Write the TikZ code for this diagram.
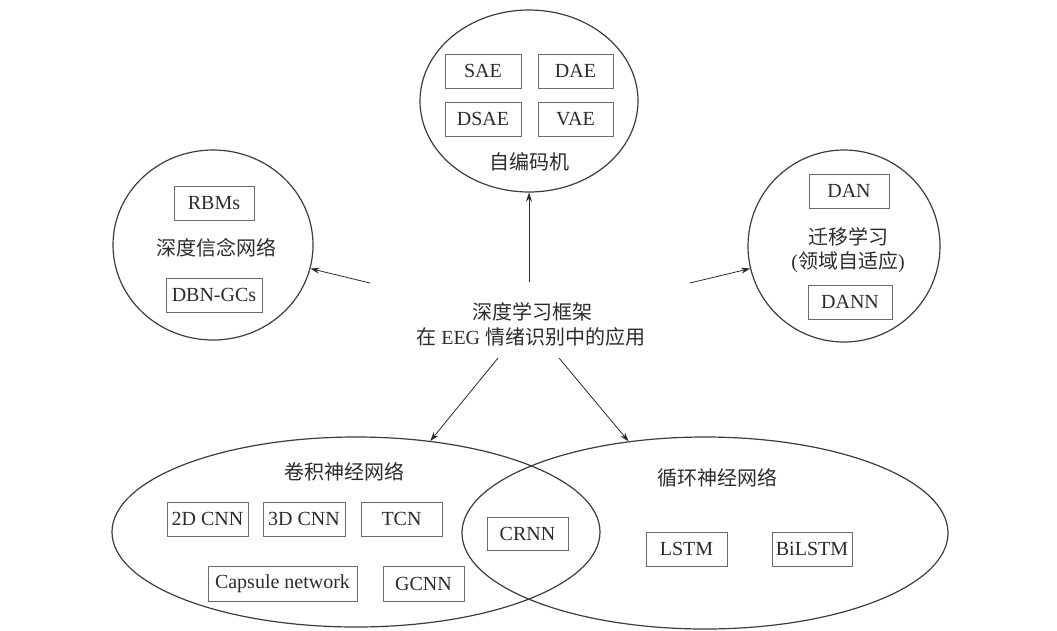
\documentclass[tikz,border=0pt]{standalone}
\usepackage{fontspec}
\setmainfont{Liberation Serif}
\newfontfamily\cjk{Noto Sans CJK SC}
\usetikzlibrary{shapes.geometric,arrows.meta}

\definecolor{inkdark}{HTML}{2E2A2B}
\definecolor{rimline}{HTML}{3C3C3C}
\definecolor{boxline}{HTML}{6A6A6A}

\tikzset{
  group/.style={ellipse, draw=rimline, line width=1.2pt, inner sep=0pt},
  algo/.style={draw=boxline, line width=0.9pt, minimum height=34pt, inner sep=0pt,
    text=inkdark, font=\fontsize{20}{23}\selectfont},
  grouplabel/.style={text=inkdark, font=\fontsize{20}{25}\selectfont\cjk, inner sep=0pt},
  link/.style={draw=inkdark, line width=0.8pt, -{Stealth[length=9pt,width=6pt]}}
}

\begin{document}
\begin{tikzpicture}[x=1pt, y=-1pt]
\path[use as bounding box] (0,0) rectangle (1057,630);

% group outlines
\node[group, minimum width=218pt, minimum height=182pt] (ae)  at (529,101) {};
\node[group, minimum width=200pt, minimum height=190pt] (dbn) at (213,245) {};
\node[group, minimum width=192pt, minimum height=192pt] (tl)  at (844,246) {};
\node[group, minimum width=488pt, minimum height=190pt] (cnn) at (356,532) {};
\node[group, minimum width=486pt, minimum height=192pt] (rnn) at (705,533) {};

% autoencoders
\node[algo, minimum width=76pt] (sae)  at (483,71)    {SAE};
\node[algo, minimum width=75pt] (dae)  at (575.5,71)  {DAE};
\node[algo, minimum width=76pt] (dsae) at (483,119)   {DSAE};
\node[algo, minimum width=75pt] (vae)  at (575.5,119) {VAE};
\node[grouplabel] (aelabel) at (529,162) {自编码机};

% deep belief network
\node[algo, minimum width=80pt] (rbm)  at (214,203) {RBMs};
\node[algo, minimum width=96pt] (dbngc) at (214,295) {DBN-GCs};
\node[grouplabel] (dbnlabel) at (216,248) {深度信念网络};

% transfer learning
\node[algo, minimum width=80pt] (dan)  at (849,191) {DAN};
\node[algo, minimum width=84pt] (dann) at (850,302) {DANN};
\node[grouplabel] (tllabel)  at (848,237) {迁移学习};
\node[grouplabel] (tllabel2) at (848,262) {\rmfamily(\cjk 领域自适应\rmfamily)};

% convolutional networks
\node[grouplabel] (cnnlabel) at (344,472) {卷积神经网络};
\node[algo, minimum width=81pt]  (cnn2d) at (207.5,519) {2D CNN};
\node[algo, minimum width=82pt]  (cnn3d) at (304,519)   {3D CNN};
\node[algo, minimum width=81pt]  (tcn)   at (401.5,519) {TCN};
\node[algo, minimum width=149pt, minimum height=35pt] (caps) at (282.5,583.5) {Capsule network};
\node[algo, minimum width=81pt, minimum height=35pt]  (gcnn) at (423.5,583.5) {GCNN};

% overlap and recurrent networks
\node[algo, minimum width=81pt, minimum height=33pt] (crnn) at (527.5,533.5) {CRNN};
\node[grouplabel] (rnnlabel) at (717,478) {循环神经网络};
\node[algo, minimum width=81pt] (lstm)   at (686.5,549) {LSTM};
\node[algo, minimum width=80pt] (bilstm) at (812,549)   {BiLSTM};

% central caption
\node[grouplabel] (hub1) at (532,312) {深度学习框架};
\node[grouplabel] (hub2) at (531,337) {在 \rmfamily EEG \cjk 情绪识别中的应用};

% connector start points around the caption
\coordinate (outUp)    at (529,282);
\coordinate (outLeft)  at (370,283);
\coordinate (outRight) at (690,283);
\coordinate (outDL)    at (498,358);
\coordinate (outDR)    at (559,358);

\draw[link] (outUp)    -- (ae);
\draw[link] (outLeft)  -- (dbn);
\draw[link] (outRight) -- (tl);
\draw[link] (outDL)    -- (cnn);
\draw[link] (outDR)    -- (rnn);
\end{tikzpicture}
\end{document}
